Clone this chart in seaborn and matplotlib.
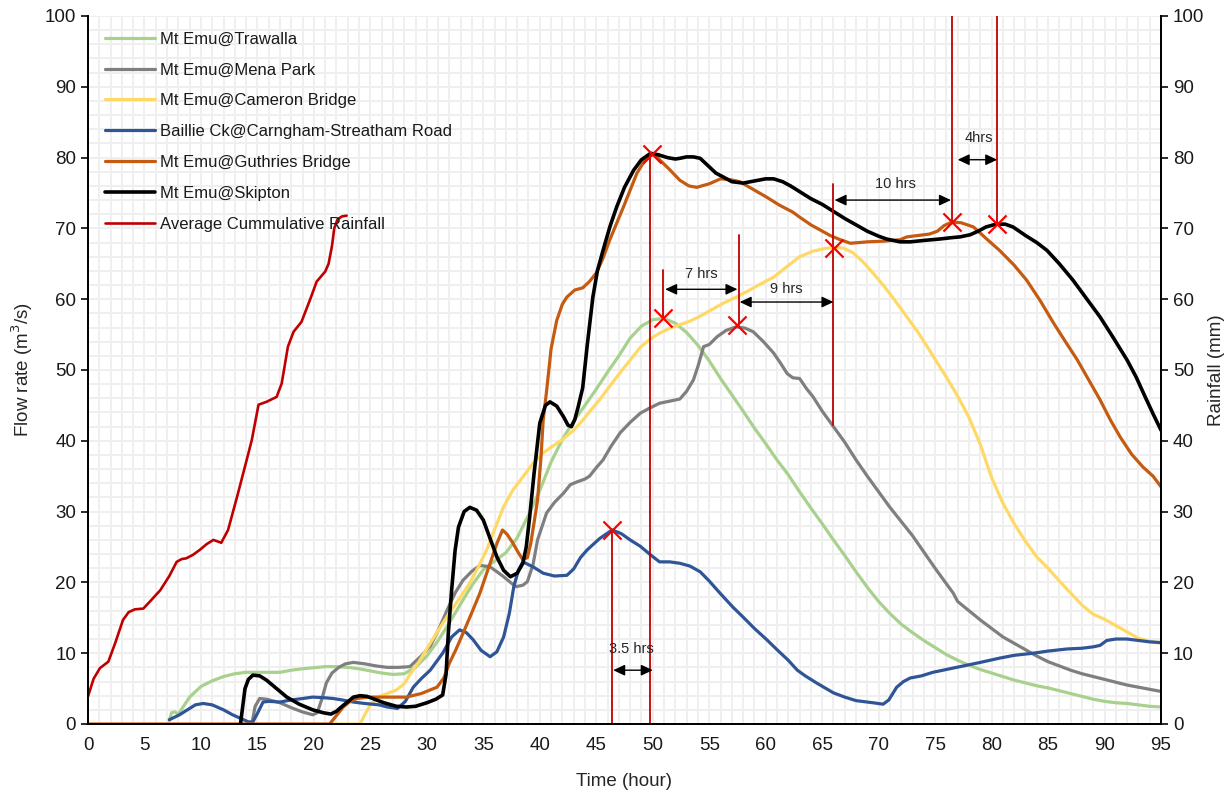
import numpy as np
import pandas as pd
import matplotlib
matplotlib.use("Agg")
import matplotlib.pyplot as plt
from matplotlib.lines import Line2D
import seaborn as sns

# ---------------- data ----------------
trawalla_t = [7.2, 7.4, 7.7, 8.0, 8.5, 9, 10, 11, 12, 13, 14, 15, 16, 17, 18, 19, 20, 21, 22, 23, 24, 25,
              26, 27, 28, 29, 30, 31, 32, 33, 34, 35, 36, 37, 38, 39, 40, 41, 42, 43, 44, 45, 46, 47, 48,
              49, 50, 51, 52, 53, 54, 55, 56, 57, 58, 59, 60, 61, 62, 63, 64, 65, 66, 67, 68, 69, 70, 71,
              72, 73, 74, 75, 76, 77, 78, 79, 80, 81, 82, 83, 84, 85, 86, 87, 88, 89, 90, 91, 92, 93, 94, 95]
trawalla_q = [0.5, 1.6, 1.7, 1.4, 2.6, 3.8, 5.3, 6.1, 6.7, 7.1, 7.3, 7.3, 7.3, 7.3, 7.6, 7.8, 7.95, 8.1, 8.1,
              8.0, 7.8, 7.5, 7.2, 7.0, 7.1, 8.0, 9.6, 11.8, 14.3, 17.0, 19.6, 21.8, 23.0, 24.2, 26.3, 29.5,
              33.0, 37.0, 40.2, 42.8, 45.0, 47.3, 49.7, 52.0, 54.5, 56.2, 57.1, 57.3, 56.6, 55.3, 53.5, 51.3,
              48.8, 46.5, 44.2, 41.8, 39.6, 37.3, 35.2, 32.8, 30.5, 28.3, 26.0, 23.8, 21.5, 19.3, 17.3, 15.6,
              14.1, 12.9, 11.8, 10.8, 9.8, 9.0, 8.3, 7.7, 7.2, 6.7, 6.2, 5.8, 5.4, 5.1, 4.7, 4.3, 3.9, 3.5,
              3.2, 3.0, 2.9, 2.7, 2.5, 2.4]

menapark_t = [14.5, 14.8, 15.2, 15.8, 17, 18, 19, 19.9, 20.3, 20.7, 21.1, 21.6, 22.2, 22.8, 23.5, 24.5, 25.5,
              26.5, 27.5, 28.5, 29.5, 30.3, 31, 31.8, 32.5, 33.2, 34, 34.7, 35.6, 36.3, 36.8, 37.4, 37.9,
              38.5, 38.9, 39.4, 39.8, 40.6, 41.3, 42.1, 42.7, 43.3, 44, 44.4, 45, 45.6, 46.3, 47.1, 48, 48.9,
              49.7, 50.6, 51.5, 52.4, 53, 53.6, 54, 54.5, 55, 55.7, 56.5, 57.4, 58.2, 58.9, 59.8, 60.7, 61.3,
              61.9, 62.4, 63, 63.6, 64.2, 65, 66, 67, 68, 69, 70, 71, 72, 73, 74, 75, 76, 76.6, 77, 78, 79,
              80, 81, 82, 83, 84, 85, 86, 87, 88, 89, 90, 91, 92, 93, 94, 95]
menapark_q = [0.0, 2.5, 3.6, 3.5, 3.0, 2.3, 1.7, 1.3, 1.6, 3.5, 5.8, 7.2, 8.0, 8.5, 8.7, 8.5, 8.2, 8.0, 8.0,
              8.1, 9.6, 11.0, 13.2, 16.1, 18.5, 20.3, 21.6, 22.4, 22.2, 21.4, 20.8, 20.0, 19.4, 19.6, 20.1,
              22.5, 26.0, 29.8, 31.3, 32.6, 33.8, 34.2, 34.6, 35.0, 36.2, 37.3, 39.2, 41.1, 42.6, 43.9, 44.6,
              45.3, 45.6, 45.9, 47.0, 48.6, 50.5, 53.3, 53.6, 54.7, 55.6, 56.1, 55.9, 55.4, 54.0, 52.4, 51.0,
              49.5, 48.9, 48.8, 47.4, 46.2, 44.2, 42.0, 39.8, 37.3, 35.0, 32.8, 30.6, 28.6, 26.6, 24.3, 22.0,
              19.8, 18.5, 17.3, 16.0, 14.7, 13.5, 12.3, 11.4, 10.5, 9.6, 8.8, 8.2, 7.6, 7.1, 6.7, 6.3, 5.9,
              5.5, 5.2, 4.9, 4.6]

cameron_t = [21.4, 24.1, 24.5, 25, 25.8, 26.5, 27.3, 28, 28.5, 29.3, 30.3, 31, 32, 33, 33.8, 34.5, 35.3, 36,
             36.8, 37.6, 38.5, 39.4, 40.3, 41.2, 42.1, 43, 43.8, 44.5, 45.3, 46, 47, 48, 48.9, 49.8, 50.6,
             51.5, 52.4, 53.3, 54.2, 55.2, 56.2, 57.4, 58.6, 59.6, 60.7, 61.8, 63, 64.2, 65.4, 66.2, 66.9,
             67.7, 68.6, 69.5, 70.5, 71.5, 72.5, 73.5, 74.5, 75, 76, 77, 78, 79, 80, 81, 82, 83, 84, 85, 86,
             87, 88, 89, 90, 91, 92, 93, 94, 95]
cameron_q = [0.0, 0.0, 1.3, 2.7, 3.9, 4.3, 4.8, 5.7, 7.0, 8.8, 11.4, 13.2, 15.7, 18.0, 19.9, 22.0, 24.6, 27.5,
             30.7, 33.0, 34.9, 36.8, 38.3, 39.3, 40.3, 41.5, 42.9, 44.3, 45.8, 47.3, 49.4, 51.4, 53.2, 54.4,
             55.2, 55.9, 56.4, 56.9, 57.6, 58.5, 59.4, 60.3, 61.3, 62.2, 63.1, 64.5, 66.0, 66.8, 67.2, 67.3,
             67.2, 66.6, 65.3, 63.7, 61.8, 59.7, 57.5, 55.3, 52.8, 51.5, 49.0, 46.3, 43.3, 39.5, 34.8, 31.2,
             28.3, 25.8, 23.6, 22.0, 20.2, 18.5, 16.8, 15.5, 14.8, 13.9, 13.0, 12.1, 11.7, 11.4]

baillie_t = [7.2, 8.1, 8.8, 9.5, 10.2, 11, 12, 12.8, 13.5, 14.2, 14.6, 15.0, 15.5, 16, 17, 18, 19, 19.9, 21,
             21.7, 22.5, 23.5, 24.5, 25.8, 26.5, 27.4, 28.1, 28.8, 29.5, 30.3, 31.4, 32.2, 32.9, 33.5, 34.1,
             34.8, 35.6, 36.2, 36.8, 37.3, 37.7, 38.1, 38.5, 39.4, 40.3, 41.3, 42.4, 43, 43.6, 44.2, 45.3,
             46.4, 47.2, 48, 48.9, 49.8, 50.6, 51.5, 52.4, 53.3, 54.2, 55, 56, 57.1, 58, 59, 60.1, 61, 62,
             62.8, 63.5, 64.5, 66, 67, 68, 69.5, 70.4, 70.9, 71.6, 72.2, 72.8, 73.8, 74.8, 76, 77.8, 79,
             80.7, 82, 83.7, 85, 86.7, 88, 89, 89.6, 90.2, 91, 92, 93, 94, 95]
baillie_q = [0.6, 1.3, 2.0, 2.7, 2.9, 2.7, 2.0, 1.3, 0.8, 0.3, 0.3, 1.5, 3.1, 3.2, 3.1, 3.4, 3.6, 3.8, 3.7,
             3.6, 3.4, 3.1, 2.9, 2.7, 2.4, 2.2, 3.2, 5.2, 6.4, 7.6, 10.0, 12.3, 13.3, 12.9, 11.9, 10.4, 9.5,
             10.2, 12.3, 15.6, 19.4, 21.7, 22.9, 22.2, 21.3, 20.9, 21.0, 21.9, 23.5, 24.6, 26.2, 27.4, 26.9,
             26.0, 25.1, 23.9, 22.9, 22.9, 22.7, 22.3, 21.5, 20.2, 18.4, 16.5, 15.1, 13.5, 11.9, 10.5, 9.0,
             7.6, 6.8, 5.8, 4.4, 3.8, 3.3, 3.0, 2.8, 3.4, 5.2, 6.0, 6.5, 6.8, 7.3, 7.7, 8.3, 8.7, 9.3, 9.7,
             10.0, 10.3, 10.6, 10.7, 10.9, 11.1, 11.8, 12.0, 12.0, 11.8, 11.6, 11.5]

guthries_t = [0, 21.4, 22.0, 22.6, 23.2, 23.8, 24.8, 25.8, 27, 28.2, 29.5, 30.9, 31.5, 32, 32.6, 33.2, 34,
              34.7, 35.6, 36.2, 36.7, 37.1, 37.6, 38.1, 38.5, 38.9, 39.2, 39.5, 39.8, 40.1, 40.3, 40.6, 41,
              41.5, 42, 42.4, 43.1, 43.8, 44.4, 45, 45.6, 46.2, 47.4, 48.6, 49.3, 49.9, 50.3, 50.6, 51.5,
              52.4, 53.2, 53.9, 55, 56, 56.8, 57.7, 58.9, 60.1, 61.2, 62.4, 63, 64, 64.8, 65.7, 66.6, 67.5,
              69, 70.5, 71.9, 72.5, 73.5, 74.5, 75.2, 75.8, 76.5, 77.3, 78.4, 79.5, 80.7, 82, 83.1, 84.3,
              85.5, 86.5, 87.6, 88.6, 89.6, 90.5, 91.4, 92.4, 93.4, 94.3, 95]
guthries_q = [0.0, 0.0, 1.2, 2.4, 3.2, 3.6, 3.8, 3.8, 3.8, 3.8, 4.3, 5.2, 6.5, 8.6, 10.6, 12.8, 15.8, 18.5,
              22.7, 25.5, 27.4, 26.8, 25.6, 24.2, 23.2, 23.5, 25.5, 28.5, 31.6, 37.5, 42.9, 47.0, 53.0, 57.0,
              59.3, 60.3, 61.3, 61.6, 62.5, 63.7, 65.8, 68.4, 73.0, 77.8, 79.6, 80.4, 80.3, 79.7, 78.3, 76.8,
              76.0, 75.8, 76.3, 77.0, 76.9, 76.6, 75.5, 74.4, 73.3, 72.3, 71.6, 70.5, 69.8, 69.0, 68.4, 67.9,
              68.1, 68.2, 68.4, 68.8, 69.0, 69.2, 69.6, 70.4, 70.9, 70.8, 70.2, 68.6, 66.9, 64.8, 62.7, 59.8,
              56.6, 54.1, 51.4, 48.6, 45.8, 43.0, 40.5, 38.1, 36.3, 35.0, 33.5]

skipton_t = [13.5, 13.7, 13.9, 14.2, 14.6, 15.2, 15.8, 16.7, 17.6, 18.7, 19.9, 20.8, 21.5, 22.0, 22.5, 22.9,
             23.5, 24.1, 24.7, 25.2, 26.2, 27.3, 28.2, 29.0, 30.0, 30.8, 31.4, 31.7, 31.9, 32.2, 32.5, 32.8,
             33.3, 33.8, 34.4, 35.0, 35.6, 36.2, 36.8, 37.4, 38.0, 38.5, 38.8, 39.1, 39.5, 40.0, 40.5, 40.9,
             41.5, 42.1, 42.5, 42.8, 43.1, 43.4, 43.8, 44.2, 44.7, 45.1, 45.6, 46.2, 46.8, 47.5, 48.3, 49.0,
             49.8, 50.5, 51.3, 52.0, 52.4, 53, 53.6, 54.2, 55, 55.6, 56.2, 57, 58, 59, 60, 60.7, 61.5, 62.2,
             62.8, 64, 65, 66, 67, 68, 69, 70, 70.7, 71.9, 72.8, 74, 75.4, 76.5, 77.2, 78.1, 78.8, 79.5,
             80.4, 81.2, 81.9, 83, 84, 84.9, 86, 87.2, 88.4, 89.6, 90.8, 92, 92.8, 93.6, 94.3, 95]
skipton_q = [0.0, 2.5, 5.0, 6.3, 6.9, 6.8, 6.2, 5.0, 3.8, 2.8, 2.0, 1.6, 1.4, 1.8, 2.5, 3.0, 3.8, 4.0, 3.9,
             3.6, 3.0, 2.5, 2.4, 2.5, 3.0, 3.5, 4.1, 7.0, 12.8, 19.0, 24.5, 27.8, 30.0, 30.6, 30.2, 28.8,
             26.2, 23.6, 21.7, 20.8, 21.3, 22.7, 25.0, 29.2, 35.5, 42.5, 45.0, 45.5, 44.9, 43.4, 42.2, 42.0,
             43.0, 44.8, 47.5, 53.5, 60.3, 64.0, 66.9, 70.2, 73.0, 75.8, 78.2, 79.7, 80.6, 80.4, 80.0, 79.8,
             79.9, 80.1, 80.1, 79.9, 78.7, 77.8, 77.3, 76.6, 76.4, 76.7, 77.0, 77.0, 76.6, 76.0, 75.4, 74.2,
             73.4, 72.4, 71.4, 70.5, 69.6, 68.9, 68.5, 68.1, 68.1, 68.3, 68.5, 68.7, 68.8, 69.1, 69.6, 70.2,
             70.6, 70.6, 70.2, 69.0, 68.0, 66.9, 65.0, 62.7, 60.1, 57.5, 54.5, 51.4, 49.0, 46.2, 43.8, 41.5]

rain_t = [0, 0.5, 1.06, 1.8, 2.4, 3.1, 3.6, 4.16, 4.9, 5.6, 6.4, 7.2, 7.85, 8.3, 8.7, 9.3, 9.9, 10.5, 11.1,
          11.8, 12.4, 13.2, 14.05, 14.5, 15.1, 15.8, 16.7, 17.15, 17.7, 18.2, 18.9, 19.65, 20.25, 21.0, 21.3,
          21.6, 21.8, 22.1, 22.5, 22.9]
rain_mm = [3.9, 6.4, 7.9, 8.8, 11.4, 14.7, 15.8, 16.2, 16.3, 17.5, 18.9, 20.9, 22.9, 23.3, 23.4, 23.9, 24.6,
           25.4, 26.0, 25.6, 27.4, 32.1, 37.3, 40.1, 45.1, 45.5, 46.2, 48.1, 53.3, 55.4, 56.8, 59.9, 62.5,
           63.9, 65.0, 67.5, 70.0, 71.3, 71.7, 71.8]

series_names = ["Mt Emu@Trawalla", "Mt Emu@Mena Park", "Mt Emu@Cameron Bridge",
                "Baillie Ck@Carngham-Streatham Road", "Mt Emu@Guthries Bridge", "Mt Emu@Skipton"]
rain_name = "Average Cummulative Rainfall"

# peak markers
peak_t = [46.4, 49.9, 50.9, 57.5, 66.05, 76.5, 80.5]
peak_q = [27.4, 80.5, 57.3, 56.3, 67.2, 70.9, 70.6]

# red guide lines: time, bottom, top
guide_t = [46.4, 49.8, 50.95, 57.6, 66.0, 76.5, 80.5]
guide_lo = [0, 0, 57.3, 56.3, 42.2, 70.9, 70.6]
guide_hi = [27.4, 80.5, 64.1, 69.0, 76.3, 100, 100]

# lag arrows
lag_labels = ["3.5 hrs", "7 hrs", "9 hrs", "10 hrs", "4hrs"]
lag_start = [46.5, 51.1, 57.7, 66.1, 77.0]
lag_end = [50.0, 57.5, 66.0, 76.4, 80.5]
lag_level = [7.6, 61.4, 59.6, 74.0, 79.7]
lag_text_t = [48.1, 54.3, 61.8, 71.5, 78.9]
lag_text_y = [10.6, 63.6, 61.5, 76.3, 82.8]

x_ticks = list(range(0, 96, 5))
y_ticks = list(range(0, 101, 10))

# ---------------- plotting ----------------
sns.set_style("white")
plt.rcParams['font.family'] = ['Liberation Sans', 'DejaVu Sans']
plt.rcParams['text.color'] = '#1a1a1a'

fig = plt.figure(figsize=(12.27, 7.93), dpi=100)
ax = fig.add_axes([88/1227, 1-724/793, (1161-88)/1227, (724-16)/793])
ax2 = ax.twinx()

colors = ["#A9D18E", "#7F7F7F", "#FFD966", "#2F5597", "#C55A11", "#000000"]
widths = [2.3, 2.3, 2.3, 2.3, 2.3, 2.6]
all_t = [trawalla_t, menapark_t, cameron_t, baillie_t, guthries_t, skipton_t]
all_q = [trawalla_q, menapark_q, cameron_q, baillie_q, guthries_q, skipton_q]

handles = []
for name, t, q, c, w in zip(series_names, all_t, all_q, colors, widths):
    df = pd.DataFrame({"t": t, "q": q})
    sns.lineplot(data=df, x="t", y="q", ax=ax, color=c, lw=w, sort=False, legend=False)
    handles.append(Line2D([], [], color=c, lw=w, label=name))

rdf = pd.DataFrame({"t": rain_t, "mm": rain_mm})
sns.lineplot(data=rdf, x="t", y="mm", ax=ax2, color="#C00000", lw=1.9, sort=False, legend=False)
handles.append(Line2D([], [], color="#C00000", lw=1.9, label=rain_name))

# guide lines and peak markers
for t, lo, hi in zip(guide_t, guide_lo, guide_hi):
    ax.plot([t, t], [lo, hi], color="#C00000", lw=1.3, zorder=5)
ax.scatter(peak_t, peak_q, marker="x", s=170, color="#FF0000", linewidths=1.6, zorder=6)

for lab, a, b, yl, tx, ty in zip(lag_labels, lag_start, lag_end, lag_level, lag_text_t, lag_text_y):
    ax.annotate("", xy=(b, yl), xytext=(a, yl),
                arrowprops=dict(arrowstyle="<|-|>,head_length=0.7,head_width=0.33",
                                color="#000000", lw=1.0, shrinkA=0, shrinkB=0), zorder=6)
    ax.text(tx, ty, lab, ha="center", va="center", fontsize=10.5, color="#262626", zorder=7)

# axes styling
for a in (ax, ax2):
    a.set_xlim(0, 95)
    a.set_ylim(0, 100)
ax.set_xticks(x_ticks)
ax.set_yticks(y_ticks)
ax2.set_yticks(y_ticks)
ax.set_xticks(np.arange(0, 96, 1), minor=True)
ax.set_yticks(np.arange(0, 101, 2), minor=True)
ax.grid(which="both", color="#EFEFEF", lw=1.4)
ax.set_axisbelow(True)
ax2.grid(False)
ax.tick_params(which="minor", length=0)
ax.tick_params(which="major", direction="out", length=5, width=1.3, labelsize=13.5, colors="#1a1a1a")
ax2.tick_params(which="major", direction="out", length=5, width=1.3, labelsize=13.5, colors="#1a1a1a")
ax.tick_params(axis="x", pad=4)

for a in (ax, ax2):
    a.spines["top"].set_visible(False)
    for s in ("left", "right", "bottom"):
        a.spines[s].set_color("#000000")
        a.spines[s].set_linewidth(1.3)

ax.set_xlabel("Time (hour)", fontsize=13.5, labelpad=14)
ax.set_ylabel("Flow rate (m$^3$/s)", fontsize=13.5, labelpad=7)
ax2.set_ylabel("Rainfall (mm)", fontsize=13.5, labelpad=3, rotation=90)

leg = ax2.legend(handles=handles, loc="upper left", bbox_to_anchor=(0.0158, 0.978),
                 frameon=False, fontsize=12, handlelength=3.0, handletextpad=0.3,
                 labelspacing=0.95, borderaxespad=0, borderpad=0)

fig.savefig("out.png", dpi=100)
